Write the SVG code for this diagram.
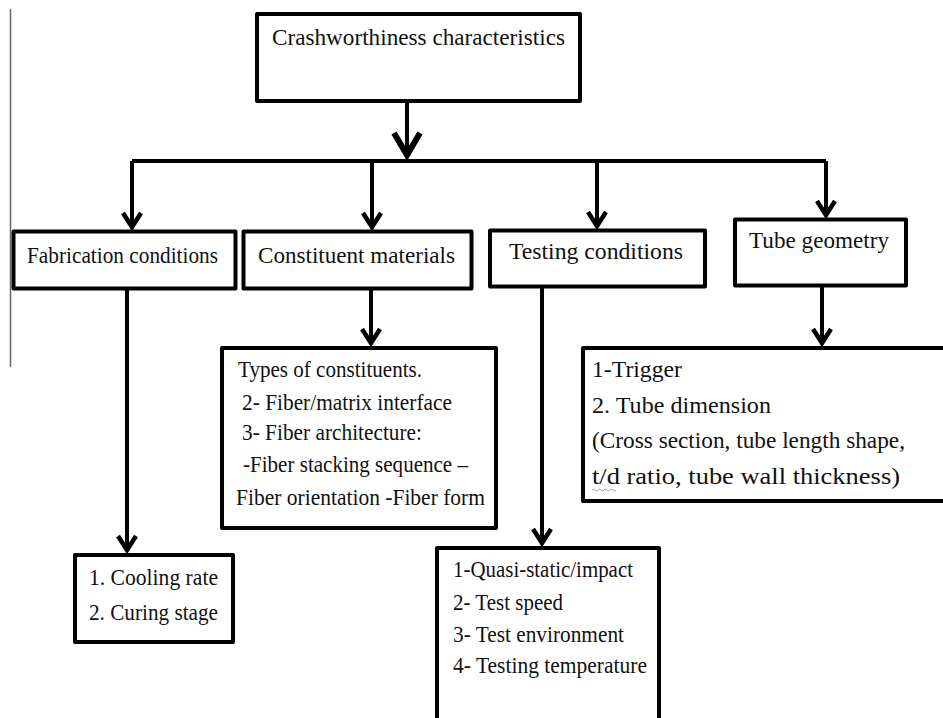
<svg xmlns="http://www.w3.org/2000/svg" width="943" height="718" viewBox="0 0 943 718">
<style>
.box{fill:#fff;stroke:#000;stroke-width:4;stroke-linejoin:round}
.ln{fill:none;stroke:#000;stroke-width:4;stroke-linejoin:round}
.h{font-family:"Liberation Serif","Times New Roman",serif;font-size:24px;fill:#111}
.t{font-family:"Liberation Serif","Times New Roman",serif;font-size:23px;fill:#111}
</style>
<defs>
<marker id="arr" markerUnits="userSpaceOnUse" viewBox="-20 -14 24 28" markerWidth="24" markerHeight="28" refX="0" refY="0" orient="auto" overflow="visible">
<path d="M-14,-9 L0,0 L-14,9" fill="none" stroke="#000" stroke-width="4.5" stroke-linejoin="miter"/>
</marker>
<marker id="arrBig" markerUnits="userSpaceOnUse" viewBox="-26 -16 30 32" markerWidth="30" markerHeight="32" refX="0" refY="0" orient="auto" overflow="visible">
<path d="M-22,-13 L0,0 L-22,13" fill="none" stroke="#000" stroke-width="6" stroke-linejoin="miter"/>
</marker>
</defs>
<rect width="943" height="718" fill="#fff"/>
<line x1="10.5" y1="9" x2="10.5" y2="367" stroke="#666" stroke-width="1.5"/>
<g id="connectors">
<line class="ln" x1="407" y1="102" x2="407" y2="155" marker-end="url(#arrBig)" stroke-width="5"/>
<path class="ln" d="M132,161 L826,161"/>
<line class="ln" x1="132" y1="161" x2="132" y2="227" marker-end="url(#arr)"/>
<line class="ln" x1="372" y1="161" x2="372" y2="227" marker-end="url(#arr)"/>
<line class="ln" x1="597" y1="161" x2="597" y2="226" marker-end="url(#arr)"/>
<line class="ln" x1="826" y1="161" x2="826" y2="215" marker-end="url(#arr)"/>
<line class="ln" x1="127" y1="289" x2="127" y2="550" marker-end="url(#arr)"/>
<line class="ln" x1="371" y1="289" x2="371" y2="343" marker-end="url(#arr)"/>
<line class="ln" x1="542" y1="288" x2="542" y2="543" marker-end="url(#arr)"/>
<line class="ln" x1="822" y1="287" x2="822" y2="343" marker-end="url(#arr)"/>
</g>
<g id="top">
<rect class="box" x="257" y="14" width="323" height="87"/>
<text class="h" x="272" y="45" textLength="293" lengthAdjust="spacingAndGlyphs">Crashworthiness characteristics</text>
</g>
<g id="fabrication">
<rect class="box" x="13.5" y="231.5" width="222" height="57"/>
<text class="h" x="27" y="263" textLength="191" lengthAdjust="spacingAndGlyphs">Fabrication conditions</text>
</g>
<g id="constituent">
<rect class="box" x="243.5" y="231.5" width="228" height="57"/>
<text class="h" x="258" y="263" textLength="197" lengthAdjust="spacingAndGlyphs">Constituent materials</text>
</g>
<g id="testing">
<rect class="box" x="490" y="230.5" width="215" height="56"/>
<text class="h" x="509" y="259" textLength="174" lengthAdjust="spacingAndGlyphs">Testing conditions</text>
</g>
<g id="tube">
<rect class="box" x="735" y="219.5" width="171" height="66"/>
<text class="h" x="749" y="248" textLength="140" lengthAdjust="spacingAndGlyphs">Tube geometry</text>
</g>
<g id="constituent-details">
<rect class="box" x="222" y="348" width="274" height="180"/>
<text class="t" x="238" y="377" textLength="184" lengthAdjust="spacingAndGlyphs">Types of constituents.</text>
<text class="t" x="242" y="410" textLength="210" lengthAdjust="spacingAndGlyphs">2- Fiber/matrix interface</text>
<text class="t" x="242" y="440" textLength="180" lengthAdjust="spacingAndGlyphs">3- Fiber architecture:</text>
<text class="t" x="243" y="472" textLength="225" lengthAdjust="spacingAndGlyphs">-Fiber stacking sequence –</text>
<text class="t" x="236" y="505" textLength="249" lengthAdjust="spacingAndGlyphs">Fiber orientation -Fiber form</text>
</g>
<g id="tube-details">
<rect class="box" x="583" y="348" width="400" height="153"/>
<text class="t" x="592" y="377" textLength="90" lengthAdjust="spacingAndGlyphs">1-Trigger</text>
<text class="t" x="592" y="413" textLength="179" lengthAdjust="spacingAndGlyphs">2. Tube dimension</text>
<text class="t" x="592" y="448" textLength="313" lengthAdjust="spacingAndGlyphs">(Cross section, tube length shape,</text>
<text class="t" x="592" y="484" textLength="308" lengthAdjust="spacingAndGlyphs">t/d ratio, tube wall thickness)</text>
<path d="M592,490 q1.5,-2 3,0 t3,0 t3,0 t3,0 t3,0 t3,0 t3,0 t3,0" fill="none" stroke="#999" stroke-width="1"/>
</g>
<g id="cooling">
<rect class="box" x="75" y="555" width="158" height="87"/>
<text class="t" x="89" y="585" textLength="129" lengthAdjust="spacingAndGlyphs">1. Cooling rate</text>
<text class="t" x="89" y="620" textLength="129" lengthAdjust="spacingAndGlyphs">2. Curing stage</text>
</g>
<g id="testing-details">
<rect class="box" x="437" y="548" width="222" height="200"/>
<text class="t" x="453" y="577" textLength="180" lengthAdjust="spacingAndGlyphs">1-Quasi-static/impact</text>
<text class="t" x="453" y="610" textLength="110" lengthAdjust="spacingAndGlyphs">2- Test speed</text>
<text class="t" x="453" y="642" textLength="171" lengthAdjust="spacingAndGlyphs">3- Test environment</text>
<text class="t" x="453" y="673" textLength="194" lengthAdjust="spacingAndGlyphs">4- Testing temperature</text>
</g>
</svg>
